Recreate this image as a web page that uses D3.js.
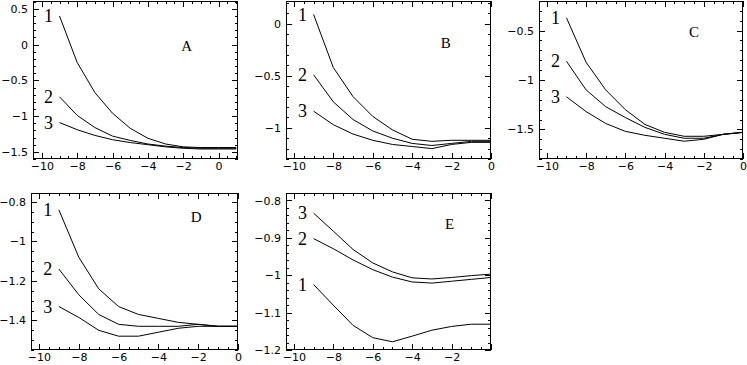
<!DOCTYPE html>
<html><head><meta charset="utf-8">
<script src="https://d3js.org/d3.v7.min.js"></script>
<style>
html,body{margin:0;padding:0;background:#fff;}
svg{display:block;}
</style></head>
<body>
<script>
// ---- data ----
const xs = [-9, -8, -7, -6, -5, -4, -3, -2, -1, 0];
const xsA = [-9, -8, -7, -6, -5, -4, -3, -2, -1, 0, 1];

const panelNames = ["A", "B", "C", "D", "E"];

const seriesA1 = [0.40, -0.25, -0.67, -0.96, -1.17, -1.31, -1.39, -1.43, -1.44, -1.44, -1.44];
const seriesA2 = [-0.73, -0.99, -1.16, -1.28, -1.34, -1.39, -1.42, -1.44, -1.45, -1.45, -1.45];
const seriesA3 = [-1.09, -1.19, -1.27, -1.33, -1.37, -1.40, -1.43, -1.45, -1.46, -1.46, -1.46];

const seriesB1 = [0.09, -0.42, -0.70, -0.89, -1.02, -1.11, -1.13, -1.12, -1.12, -1.12];
const seriesB2 = [-0.49, -0.75, -0.92, -1.03, -1.10, -1.15, -1.17, -1.15, -1.13, -1.13];
const seriesB3 = [-0.84, -0.97, -1.06, -1.12, -1.16, -1.18, -1.20, -1.16, -1.14, -1.14];

const seriesC1 = [-0.37, -0.82, -1.10, -1.30, -1.45, -1.53, -1.57, -1.57, -1.55, -1.53];
const seriesC2 = [-0.81, -1.10, -1.27, -1.38, -1.48, -1.55, -1.59, -1.59, -1.55, -1.53];
const seriesC3 = [-1.17, -1.32, -1.44, -1.52, -1.56, -1.59, -1.62, -1.60, -1.55, -1.53];

const seriesD1 = [-0.84, -1.08, -1.24, -1.33, -1.37, -1.39, -1.41, -1.42, -1.43, -1.43];
const seriesD2 = [-1.14, -1.27, -1.37, -1.42, -1.43, -1.43, -1.43, -1.42, -1.43, -1.43];
const seriesD3 = [-1.33, -1.385, -1.45, -1.48, -1.48, -1.46, -1.44, -1.43, -1.43, -1.43];

const seriesE1 = [-1.025, -1.080, -1.134, -1.167, -1.178, -1.163, -1.147, -1.137, -1.131, -1.131];
const seriesE2 = [-0.902, -0.929, -0.959, -0.985, -1.005, -1.018, -1.021, -1.016, -1.011, -1.006];
const seriesE3 = [-0.834, -0.882, -0.931, -0.967, -0.991, -1.007, -1.010, -1.006, -1.001, -0.997];

const xDomains = [[-10.5, 1.1], [-10.4, 0], [-10.4, 0], [-10.4, 0], [-10.4, 0]];
const yDomains = [[-1.6, 0.61], [-1.3, 0.22], [-1.8, -0.2], [-1.55, -0.755], [-1.2, -0.78]];

const xTickLabels = [[-10, -8, -6, -4, -2, 0], [-10, -8, -6, -4, -2, 0], [-10, -8, -6, -4, -2, 0], [-10, -8, -6, -4, -2, 0], [-10, -8, -6, -4, -2]];
const yTickLabels = [[0.5, 0, -0.5, -1, -1.5], [0, -0.5, -1], [-0.5, -1, -1.5], [-0.8, -1, -1.2, -1.4], [-0.8, -0.9, -1, -1.1, -1.2]];
const yMinorStep = [0.1, 0.1, 0.1, 0.05, 0.02];
const xMinorStep = 0.5;

const curveLabels = ["1", "2", "3"];

// ---- layout ----
const W = 747, H = 365;
const frames = [
  {x: 33, y: 1, w: 205, h: 158},
  {x: 286, y: 1, w: 205, h: 158},
  {x: 539, y: 1, w: 204, h: 158},
  {x: 31, y: 193, w: 207, h: 157},
  {x: 286, y: 193, w: 205, h: 157}
];
const series = [[seriesA1, seriesA2, seriesA3], [seriesB1, seriesB2, seriesB3], [seriesC1, seriesC2, seriesC3], [seriesD1, seriesD2, seriesD3], [seriesE1, seriesE2, seriesE3]];
const xsets = [xsA, xs, xs, xs, xs];
const letterPos = [[-1.8, 0.0], [-2.3, -0.17], [-2.5, -0.5], [-2.1, -0.87], [-2.1, -0.86]];

const svg = d3.select("body").append("svg").attr("width", W).attr("height", H);

function fmt(v) {
  let s = String(+v.toFixed(2));
  return s.replace("-", "\u2212");
}

panelNames.forEach((name, i) => {
  const f = frames[i];
  const g = svg.append("g").attr("transform", `translate(${f.x},${f.y})`);
  const x = d3.scaleLinear().domain(xDomains[i]).range([0, f.w]);
  const y = d3.scaleLinear().domain(yDomains[i]).range([f.h, 0]);

  const xd = xDomains[i], yd = yDomains[i];
  const xMinor = d3.range(Math.ceil(xd[0] / xMinorStep), Math.floor(xd[1] / xMinorStep) + 1).map(k => k * xMinorStep);
  const yMinor = d3.range(Math.ceil(yd[0] / yMinorStep[i] - 1e-6), Math.floor(yd[1] / yMinorStep[i] + 1e-6) + 1).map(k => +(k * yMinorStep[i]).toFixed(4));
  const isMajX = v => Math.abs(v / 2 - Math.round(v / 2)) < 1e-6;
  const yMajStep = Math.abs(yTickLabels[i][0] - yTickLabels[i][1]);
  const isMajY = v => Math.abs(v / yMajStep - Math.round(v / yMajStep)) < 1e-6;

  const tickG = g.append("g").attr("stroke", "#000").attr("stroke-width", 1).attr("shape-rendering", "crispEdges");
  xMinor.forEach(v => {
    const L = isMajX(v) ? 6 : 3;
    const px = Math.round(x(v)) + 0.5;
    tickG.append("line").attr("x1", px).attr("x2", px).attr("y1", f.h).attr("y2", f.h - L);
    tickG.append("line").attr("x1", px).attr("x2", px).attr("y1", 0).attr("y2", L);
  });
  yMinor.forEach(v => {
    const L = isMajY(v) ? 6 : 3;
    const py = Math.round(y(v)) + 0.5;
    tickG.append("line").attr("y1", py).attr("y2", py).attr("x1", 0).attr("x2", L);
    tickG.append("line").attr("y1", py).attr("y2", py).attr("x1", f.w).attr("x2", f.w - L);
  });

  const xAxis = d3.axisBottom(x).tickValues(xTickLabels[i]).tickSize(0).tickPadding(3).tickFormat(fmt);
  const gx = g.append("g").attr("transform", `translate(0,${f.h})`).call(xAxis);
  const yAxis = d3.axisLeft(y).tickValues(yTickLabels[i]).tickSize(0).tickPadding(5).tickFormat(fmt);
  const gy = g.append("g").call(yAxis);
  [gx, gy].forEach(a => {
    a.select(".domain").remove();
    a.selectAll("text").attr("font-size", 11).attr("fill", "#000").attr("font-family", "DejaVu Sans, sans-serif");
  });

  g.append("rect").attr("x", 0.5).attr("y", 0.5).attr("width", f.w - 1).attr("height", f.h - 1)
    .attr("fill", "none").attr("stroke", "#000").attr("stroke-width", 1).attr("shape-rendering", "crispEdges");

  const clipId = "clip" + i;
  g.append("clipPath").attr("id", clipId).append("rect").attr("width", f.w).attr("height", f.h);
  const line = d3.line().x((d, k) => x(xsets[i][k])).y(d => y(d));
  series[i].forEach(s => {
    g.append("path").datum(s).attr("d", line).attr("fill", "none").attr("stroke", "#000")
      .attr("stroke-width", 1).attr("clip-path", `url(#${clipId})`);
  });

  series[i].forEach((s, k) => {
    g.append("text").attr("x", x(xsets[i][0]) - 11).attr("y", y(s[0]) + 6)
      .attr("text-anchor", "middle").attr("font-family", "Liberation Serif, serif")
      .attr("font-size", 18).text(curveLabels[k]);
  });
  g.append("text").attr("x", x(letterPos[i][0])).attr("y", y(letterPos[i][1]) + 6)
    .attr("text-anchor", "middle").attr("font-family", "Liberation Serif, serif")
    .attr("font-size", 15).text(name);
});
</script>
</body></html>
